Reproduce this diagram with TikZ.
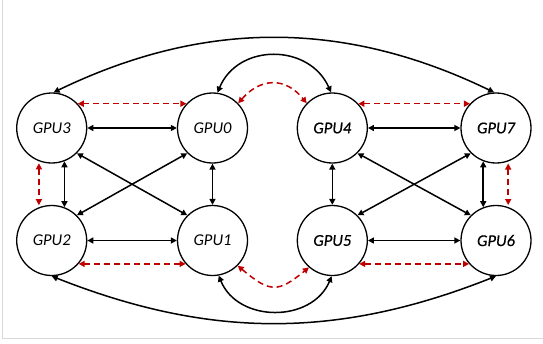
\documentclass[tikz,border=0pt]{standalone}
\usepackage{fontspec}
\setmainfont{Carlito}
\newfontfamily\semib{Carlito}[FakeBold=0.5]
\usetikzlibrary{arrows.meta}
\definecolor{dred}{HTML}{C00000}
\tikzset{
  gpu/.style={circle, draw, line width=1.3pt, minimum size=70pt, inner sep=0pt,
    font=\fontsize{16.5}{18}\selectfont\itshape},
  gpub/.style={gpu, font=\fontsize{16.5}{18}\selectfont\semib\itshape},
  blk/.style={line width=1.5pt, {Triangle[length=6pt,width=6pt]}-{Triangle[length=6pt,width=6pt]}},
  rdd/.style={line width=1.5pt, dred, dash pattern=on 6pt off 4pt,
    {Triangle[length=6pt,width=6pt]}-{Triangle[length=6pt,width=6pt]}},
}
\begin{document}
\begin{tikzpicture}[x=1pt,y=-1pt]
\useasboundingbox (0,0) rectangle (543,343);
\draw[black!15, line width=1pt] (2.5,0) -- (2.5,338) -- (543,338);
\node[gpu]  (g3) at (51.7,128)  {GPU3};
\node[gpu]  (g0) at (212.5,128) {GPU0};
\node[gpub] (g4) at (332.3,128) {GPU4};
\node[gpub] (g7) at (496,128)   {GPU7};
\node[gpu]  (g2) at (51.7,240.5)  {GPU2};
\node[gpu]  (g1) at (212.5,240.5) {GPU1};
\node[gpub] (g5) at (332.3,240.5) {GPU5};
\node[gpub] (g6) at (496,240.5)   {GPU6};
% horizontal
\draw[blk] (g3) -- (g0);
\draw[blk] (g2) -- (g1);
\draw[blk] (g4) -- (g7);
\draw[blk] (g5) -- (g6);
\draw[rdd] (g3.43) -- (g0.137);
\draw[rdd] (g2.-41) -- (g1.-139);
\draw[rdd] (g4.43) -- (g7.137);
\draw[rdd] (g5.-41) -- (g6.-139);
% vertical
\draw[blk] (g3.-69) -- (g2.69);
\draw[rdd, shorten <=2pt, shorten >=2pt] (g3.-111) -- (g2.111);
\draw[blk] (g0.south) -- (g1.north);
\draw[blk] (g4.south) -- (g5.north);
\draw[blk] (g7.-111) -- (g6.111);
\draw[rdd, shorten <=2pt, shorten >=2pt] (g7.-70) -- (g6.70);
% diagonals
\draw[blk] (g3.-45) -- (g1.135);
\draw[blk] (g0.-135) -- (g2.45);
\draw[blk] (g4.-45) -- (g6.135);
\draw[blk] (g7.-135) -- (g5.45);
% arcs
\draw[blk] (g3.87) .. controls (204,19.7) and (344,19.7) .. (g7.93);
\draw[blk] (g2.-90) .. controls (210,338.8) and (338,338.8) .. (g6.-90);
\draw[blk] (g0.82) .. controls (238,43.2) and (309,43.2) .. (g4.92);
\draw[blk] (g1.-80) .. controls (238,323) and (312,323) .. (g5.-91);
\draw[rdd] (g0.44) .. controls (261,77.2) and (285.7,77.2) .. (g4.136);
\draw[rdd] (g1.-45) .. controls (270,292.9) and (278,292.9) .. (g5.-131);
\end{tikzpicture}
\end{document}
